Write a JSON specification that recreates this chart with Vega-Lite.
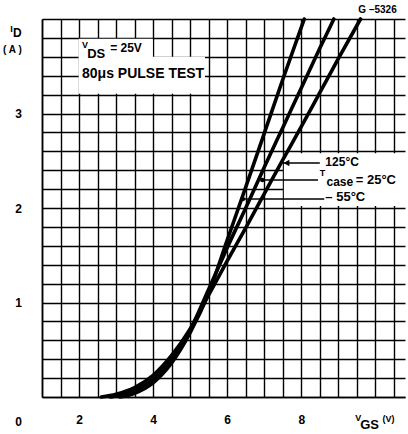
{
  "$schema": "https://vega.github.io/schema/vega-lite/v6.json",
  "width": 363,
  "height": 378,
  "autosize": {"type": "none"},
  "padding": {"left": 42, "top": 19, "right": 3, "bottom": 37},
  "background": "white",
  "config": {"view": {"stroke": null}, "font": "Liberation Sans", "text": {"font": "Liberation Sans", "fontWeight": "bold", "color": "black", "align": "left", "baseline": "alphabetic"}},
  "datasets": {
    "boxes": [
      {"v": 1.99, "v2": 3.99, "i": 3.59, "i2": 3.79},
      {"v": 1.99, "v2": 5.4, "i": 3.21, "i2": 3.6},
      {"v": 7.53, "v2": 10.9, "i": 2.02, "i2": 2.58}
    ],
    "curves": [
      {"t": "125", "v": 2.6, "i": 0},
      {"t": "125", "v": 3.0, "i": 0.03},
      {"t": "125", "v": 3.5, "i": 0.1},
      {"t": "125", "v": 4.0, "i": 0.23},
      {"t": "125", "v": 4.5, "i": 0.44},
      {"t": "125", "v": 5.0, "i": 0.72},
      {"t": "125", "v": 5.5, "i": 1.08},
      {"t": "125", "v": 6.0, "i": 1.44},
      {"t": "125", "v": 6.5, "i": 1.79},
      {"t": "125", "v": 7.0, "i": 2.15},
      {"t": "125", "v": 7.5, "i": 2.51},
      {"t": "125", "v": 8.0, "i": 2.86},
      {"t": "125", "v": 8.5, "i": 3.22},
      {"t": "125", "v": 9.0, "i": 3.58},
      {"t": "125", "v": 9.6, "i": 4.0},
      {"t": "25", "v": 2.85, "i": 0},
      {"t": "25", "v": 3.5, "i": 0.07},
      {"t": "25", "v": 4.0, "i": 0.19},
      {"t": "25", "v": 4.5, "i": 0.4},
      {"t": "25", "v": 5.0, "i": 0.71},
      {"t": "25", "v": 5.5, "i": 1.14},
      {"t": "25", "v": 6.0, "i": 1.58},
      {"t": "25", "v": 6.5, "i": 2.0},
      {"t": "25", "v": 7.0, "i": 2.43},
      {"t": "25", "v": 7.5, "i": 2.85},
      {"t": "25", "v": 8.0, "i": 3.27},
      {"t": "25", "v": 8.5, "i": 3.69},
      {"t": "25", "v": 8.88, "i": 4.0},
      {"t": "-55", "v": 3.1, "i": 0},
      {"t": "-55", "v": 3.5, "i": 0.04},
      {"t": "-55", "v": 4.0, "i": 0.15},
      {"t": "-55", "v": 4.5, "i": 0.36},
      {"t": "-55", "v": 5.0, "i": 0.68},
      {"t": "-55", "v": 5.5, "i": 1.1},
      {"t": "-55", "v": 6.0, "i": 1.66},
      {"t": "-55", "v": 6.5, "i": 2.22},
      {"t": "-55", "v": 7.0, "i": 2.79},
      {"t": "-55", "v": 7.5, "i": 3.36},
      {"t": "-55", "v": 8.08, "i": 4.0}
    ],
    "leaders": [
      {"v": 7.5, "v2": 8.5, "i": 2.476},
      {"v": 6.92, "v2": 8.45, "i": 2.296},
      {"v": 6.38, "v2": 8.62, "i": 2.095}
    ],
    "arrows": [{"v": 7.6, "i": 2.476}],
    "dots": [{"v": 6.95, "i": 2.296}, {"v": 6.42, "i": 2.095}],
    "t9": [
      {"txt": "I", "v": 0.14, "i": 3.862},
      {"txt": "V", "v": 2.08, "i": 3.693},
      {"txt": "T", "v": 8.5, "i": 2.34},
      {"txt": "V", "v": 9.46, "i": -0.254},
      {"txt": "(V)", "v": 10.19, "i": -0.265}
    ],
    "t10": [
      {"txt": "( A )", "v": -0.05, "i": 3.64},
      {"txt": "G –5326", "v": 9.54, "i": 4.063}
    ],
    "t12": [
      {"txt": "D", "v": 0.216, "i": 3.81},
      {"txt": "= 25V", "v": 2.84, "i": 3.651},
      {"txt": "125°C", "v": 8.65, "i": 2.444},
      {"txt": "case", "v": 8.68, "i": 2.235}
    ],
    "t13": [
      {"txt": "= 25°C", "v": 9.47, "i": 2.25},
      {"txt": "DS", "v": 2.22, "i": 3.587},
      {"txt": "– 55°C", "v": 8.65, "i": 2.07},
      {"txt": "GS", "v": 9.59, "i": -0.339}
    ],
    "t14": [
      {"txt": "80μs PULSE TEST", "v": 2.08, "i": 3.376}
    ]
  },
  "encoding": {
    "x": {
      "field": "v", "type": "quantitative",
      "scale": {"domain": [1, 10.8], "nice": false, "zero": false},
      "axis": {
        "title": null,
        "values": [1, 1.5, 2, 2.5, 3, 3.5, 4, 4.5, 5, 5.5, 6, 6.5, 7, 7.5, 8, 8.5, 9, 9.5, 10, 10.5],
        "labelExpr": "indexof([2,4,6,8], datum.value) >= 0 ? format(datum.value, 'd') : ''",
        "grid": true, "gridColor": "black", "gridWidth": 1.4, "gridOpacity": 1,
        "ticks": false, "tickSize": 0,
        "domain": true, "domainColor": "black", "domainWidth": 1.6,
        "labelFont": "Liberation Sans", "labelFontWeight": "bold", "labelFontSize": 12, "labelColor": "black",
        "labelPadding": 17, "labelOverlap": false, "labelFlush": false, "labelBound": false
      }
    },
    "y": {
      "field": "i", "type": "quantitative",
      "scale": {"domain": [0, 4], "nice": false, "zero": false},
      "axis": {
        "title": null,
        "values": [0, 0.2, 0.4, 0.6, 0.8, 1, 1.2, 1.4, 1.6, 1.8, 2, 2.2, 2.4, 2.6, 2.8, 3, 3.2, 3.4, 3.6, 3.8, 4],
        "labelExpr": "indexof([0,1,2,3], datum.value) >= 0 ? format(datum.value, 'd') : ''",
        "grid": true, "gridColor": "black", "gridWidth": 1.4, "gridOpacity": 1,
        "ticks": false, "tickSize": 0,
        "domain": true, "domainColor": "black", "domainWidth": 1.6,
        "labelFont": "Liberation Sans", "labelFontWeight": "bold", "labelFontSize": 12, "labelColor": "black",
        "labelAlign": "center", "labelPadding": 24,
        "labelOffset": {"condition": {"test": "datum.value === 0", "value": 24}, "value": 0},
        "labelOverlap": false, "labelFlush": false, "labelBound": false
      }
    }
  },
  "layer": [
    {
      "data": {"name": "boxes"},
      "mark": {"type": "rect", "color": "white", "stroke": null},
      "encoding": {"x2": {"field": "v2"}, "y2": {"field": "i2"}}
    },
    {
      "data": {"name": "curves"},
      "mark": {"type": "line", "color": "black", "strokeWidth": 3.6, "interpolate": "monotone", "strokeCap": "round"},
      "encoding": {"detail": {"field": "t"}}
    },
    {
      "data": {"name": "leaders"},
      "mark": {"type": "rule", "color": "black", "strokeWidth": 1.5},
      "encoding": {"x2": {"field": "v2"}}
    },
    {
      "data": {"name": "arrows"},
      "mark": {"type": "point", "shape": "triangle-left", "filled": true, "color": "black", "size": 45, "opacity": 1},
      "encoding": {}
    },
    {
      "data": {"name": "dots"},
      "mark": {"type": "point", "shape": "circle", "filled": true, "color": "black", "size": 22, "opacity": 1},
      "encoding": {}
    },
    {
      "data": {"name": "t9"},
      "mark": {"type": "text", "fontSize": 9},
      "encoding": {"text": {"field": "txt"}}
    },
    {
      "data": {"name": "t10"},
      "mark": {"type": "text", "fontSize": 10},
      "encoding": {"text": {"field": "txt"}}
    },
    {
      "data": {"name": "t12"},
      "mark": {"type": "text", "fontSize": 12},
      "encoding": {"text": {"field": "txt"}}
    },
    {
      "data": {"name": "t13"},
      "mark": {"type": "text", "fontSize": 13},
      "encoding": {"text": {"field": "txt"}}
    },
    {
      "data": {"name": "t14"},
      "mark": {"type": "text", "fontSize": 14},
      "encoding": {"text": {"field": "txt"}}
    }
  ]
}
